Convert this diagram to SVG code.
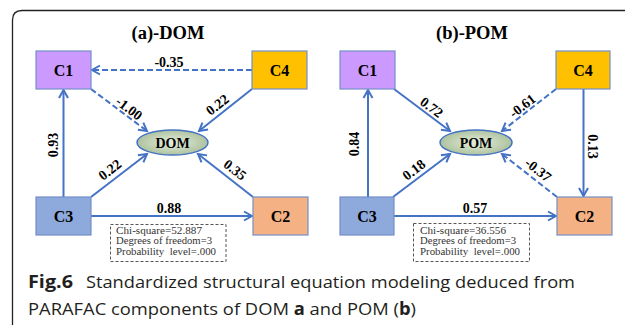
<svg xmlns="http://www.w3.org/2000/svg" width="625" height="327" viewBox="0 0 625 327">
<defs>
<marker id="arr" markerUnits="userSpaceOnUse" markerWidth="12" markerHeight="12" viewBox="0 0 12 12" refX="10" refY="6" orient="auto">
<path d="M2,1.5 L10,6 L2,10.5" fill="none" stroke="#4472C4" stroke-width="2" stroke-linejoin="miter"/>
</marker>
<radialGradient id="eg" cx="50%" cy="50%" r="55%">
<stop offset="0" stop-color="#E6EEDD"/>
<stop offset="1" stop-color="#A8BE98"/>
</radialGradient>
<style>
.n{stroke:#7390C8;stroke-width:1.2}
.nt{font-family:"Liberation Serif",serif;font-weight:bold;font-size:16px;text-anchor:middle;fill:#000}
.et{font-family:"Liberation Serif",serif;font-weight:bold;font-size:14px;text-anchor:middle;fill:#000}
.ti{font-family:"Liberation Serif",serif;font-weight:bold;font-size:18.5px;text-anchor:middle;fill:#000}
.st{font-family:"Liberation Serif",serif;font-size:10.5px;fill:#333}
.e{stroke:#4472C4;stroke-width:2;fill:none;marker-end:url(#arr)}
.d{stroke-dasharray:6,3}
.box{fill:none;stroke:#555;stroke-width:1;stroke-dasharray:3,2}
.cap{font-family:"Open Sans","Noto Sans",sans-serif;font-size:17px;fill:#231F20}
</style>
</defs>
<rect width="625" height="327" fill="#fff"/>
<path d="M12.5,325 V20 Q12.5,10.5 22,10.5 H625" fill="none" stroke="#222" stroke-width="1.3"/>

<text class="ti" x="168" y="39">(a)-DOM</text>
<text class="ti" x="472" y="39">(b)-POM</text>

<g id="connectors">
<line class="e d" x1="252" y1="70" x2="92" y2="70"/>
<line class="e d" x1="91" y1="89" x2="147" y2="131"/>
<line class="e" x1="252" y1="89" x2="199" y2="131"/>
<line class="e" x1="63.5" y1="197" x2="63.5" y2="90"/>
<line class="e" x1="91" y1="197" x2="147" y2="154"/>
<line class="e" x1="253" y1="197" x2="198" y2="154"/>
<line class="e" x1="91" y1="216" x2="252" y2="216"/>

<line class="e" x1="394" y1="89" x2="450" y2="131"/>
<line class="e d" x1="556" y1="89" x2="502" y2="131"/>
<line class="e" x1="368" y1="197" x2="368" y2="90"/>
<line class="e" x1="583.5" y1="89" x2="583.5" y2="196"/>
<line class="e" x1="393" y1="197" x2="450" y2="154"/>
<line class="e d" x1="557" y1="197" x2="502" y2="154"/>
<line class="e" x1="393" y1="216" x2="556" y2="216"/>

<text class="et" x="169" y="66.5">-0.35</text>
<text class="et" transform="translate(129,108.5) rotate(37)" y="4.5">-1.00</text>
<text class="et" transform="translate(217.5,105) rotate(-38)" y="4.5">0.22</text>
<text class="et" transform="translate(53,145) rotate(-90)" y="4.5">0.93</text>
<text class="et" transform="translate(110,170) rotate(-38)" y="4.5">0.22</text>
<text class="et" transform="translate(235,170) rotate(38)" y="4.5">0.35</text>
<text class="et" x="169" y="213">0.88</text>

<text class="et" transform="translate(431.5,107.5) rotate(37)" y="4.5">0.72</text>
<text class="et" transform="translate(522.5,106) rotate(-38)" y="4.5">-0.61</text>
<text class="et" transform="translate(354,144) rotate(-90)" y="4.5">0.84</text>
<text class="et" transform="translate(592.5,146.5) rotate(90)" y="4.5">0.13</text>
<text class="et" transform="translate(414,170) rotate(-38)" y="4.5">0.18</text>
<text class="et" transform="translate(538,170) rotate(38)" y="4.5">-0.37</text>
<text class="et" x="475" y="213">0.57</text>
</g>

<g id="a-C1"><rect class="n" x="36" y="51" width="55" height="38" fill="#CC99FF"/><text class="nt" x="63.5" y="75.5">C1</text></g>
<g id="a-C4"><rect class="n" x="252" y="51" width="55" height="38" fill="#FFC000"/><text class="nt" x="279.5" y="75.5">C4</text></g>
<g id="a-C3"><rect class="n" x="36" y="197" width="55" height="38" fill="#8EA9DB"/><text class="nt" x="63.5" y="221.5">C3</text></g>
<g id="a-C2"><rect class="n" x="253" y="197" width="55" height="38" fill="#F4B183"/><text class="nt" x="280.5" y="221.5">C2</text></g>
<g id="a-DOM"><ellipse cx="172.5" cy="142.5" rx="35.5" ry="12.5" fill="url(#eg)" stroke="#4472C4" stroke-width="1.5"/><text class="nt" style="font-size:14px" x="172.5" y="147.5">DOM</text></g>

<g id="b-C1"><rect class="n" x="340" y="51" width="55" height="38" fill="#CC99FF"/><text class="nt" x="367.5" y="75.5">C1</text></g>
<g id="b-C4"><rect class="n" x="556" y="51" width="54" height="38" fill="#FFC000"/><text class="nt" x="583" y="75.5">C4</text></g>
<g id="b-C3"><rect class="n" x="340" y="197" width="54" height="38" fill="#8EA9DB"/><text class="nt" x="367" y="221.5">C3</text></g>
<g id="b-C2"><rect class="n" x="557" y="197" width="55" height="38" fill="#F4B183"/><text class="nt" x="584.5" y="221.5">C2</text></g>
<g id="b-POM"><ellipse cx="476" cy="142.5" rx="36" ry="12.5" fill="url(#eg)" stroke="#4472C4" stroke-width="1.5"/><text class="nt" style="font-size:14px" x="476" y="147.5">POM</text></g>

<g id="a-stats">
<rect class="box" x="110.5" y="224.5" width="115.5" height="37"/>
<text class="st" x="116" y="234" textLength="86" lengthAdjust="spacingAndGlyphs">Chi-square=52.887</text>
<text class="st" x="116" y="244.3" textLength="96" lengthAdjust="spacingAndGlyphs">Degrees of freedom=3</text>
<text class="st" x="116" y="254.6" xml:space="preserve" textLength="100" lengthAdjust="spacingAndGlyphs">Probability  level=.000</text>
</g>
<g id="b-stats">
<rect class="box" x="413.5" y="223.5" width="116" height="38"/>
<text class="st" x="420" y="234" textLength="86" lengthAdjust="spacingAndGlyphs">Chi-square=36.556</text>
<text class="st" x="420" y="244.3" textLength="96" lengthAdjust="spacingAndGlyphs">Degrees of freedom=3</text>
<text class="st" x="420" y="254.6" xml:space="preserve" textLength="100" lengthAdjust="spacingAndGlyphs">Probability  level=.000</text>
</g>

<text class="cap" x="28" y="288" font-weight="bold" textLength="45" lengthAdjust="spacingAndGlyphs">Fig.6</text>
<text class="cap" x="86" y="288" textLength="489" lengthAdjust="spacingAndGlyphs">Standardized structural equation modeling deduced from</text>
<text class="cap" x="28" y="315" textLength="388" lengthAdjust="spacingAndGlyphs">PARAFAC components of DOM <tspan font-weight="bold">a</tspan> and POM (<tspan font-weight="bold">b</tspan>)</text>
</svg>
